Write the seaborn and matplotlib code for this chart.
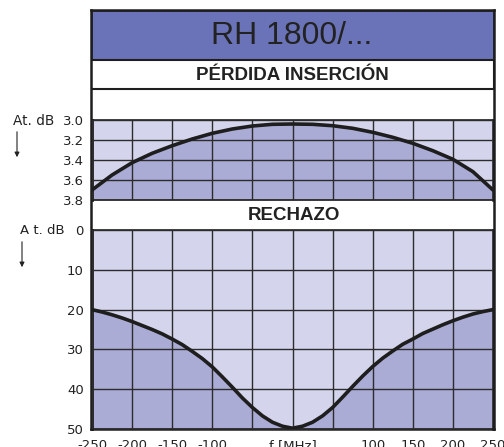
import matplotlib
matplotlib.use("Agg")
import matplotlib.pyplot as plt
from matplotlib.patches import Rectangle
import seaborn as sns
import pandas as pd

# ---- data ----
freq_il = [-250, -225, -200, -175, -150, -125, -100, -75, -50, -25, 0,
           25, 50, 75, 100, 125, 150, 175, 200, 225, 250]
insertion_loss = [3.70, 3.55, 3.427, 3.333, 3.257, 3.19, 3.133, 3.09, 3.06, 3.043, 3.04,
                  3.043, 3.057, 3.083, 3.123, 3.173, 3.233, 3.307, 3.393, 3.517, 3.70]
freq_rej = [-250, -237.5, -225, -212.5, -200, -187.5, -175, -162.5, -150, -137.5,
            -125, -112.5, -100, -87.5, -75, -62.5, -50, -37.5, -25, -12.5, 0,
            12.5, 25, 37.5, 50, 62.5, 75, 87.5, 100, 112.5, 125,
            137.5, 150, 162.5, 175, 187.5, 200, 212.5, 225, 237.5, 250]
rejection = [20.0, 20.6, 21.3, 22.1, 23.0, 24.0, 25.0, 26.1, 27.4, 28.8,
             30.5, 32.3, 34.4, 36.9, 39.5, 42.2, 44.6, 46.7, 48.3, 49.3, 49.8,
             49.3, 48.3, 46.7, 44.6, 42.0, 39.3, 36.7, 34.3, 32.2, 30.4,
             28.7, 27.4, 26.0, 24.9, 23.8, 22.8, 21.9, 21.1, 20.5, 20.0]
x_ticks = [-250, -200, -150, -100, -50, 0, 50, 100, 150, 200, 250]
x_labels = ["-250", "-200", "-150", "-100", "", "f [MHz]", "", "100", "150", "200", "250"]
il_ticks = [3.0, 3.2, 3.4, 3.6, 3.8]
il_labels = ["3.0", "3.2", "3.4", "3.6", "3.8"]
rej_ticks = [0, 10, 20, 30, 40, 50]
rej_labels = ["0", "10", "20", "30", "40", "50"]
title = "RH 1800/..."
sub_top = "PÉRDIDA INSERCIÓN"
sub_bottom = "RECHAZO"
y_name_top = "At. dB"
y_name_bottom = "A t. dB"

df_il = pd.DataFrame({"f": freq_il, "il": insertion_loss})
df_rej = pd.DataFrame({"f": freq_rej, "rej": rejection})

sns.set_style("white")
plt.rcParams["font.family"] = ["DejaVu Sans"]

LIGHT = "#d4d5ec"
DARK = "#aaacd5"
PURPLE = "#6b73b8"
INK = "#1e1e1e"
GRID = "#2c2c2c"

W, H = 504, 447
fig = plt.figure(figsize=(W / 100, H / 100), dpi=100)


def fx(px):
    return px / W


def fy(py):
    return 1 - py / H


# frame / header axes in pixel units
fr = fig.add_axes([fx(91), fy(429), fx(494) - fx(91), fy(10) - fy(429)])
fr.set_xlim(91, 494)
fr.set_ylim(429, 10)
fr.set_xticks([])
fr.set_yticks([])
for s in fr.spines.values():
    s.set_linewidth(1.8)
    s.set_color(INK)
fr.add_patch(Rectangle((91, 10), 403, 50, facecolor=PURPLE, edgecolor=INK, lw=1.8))
fr.add_patch(Rectangle((91, 60), 403, 29, facecolor="white", edgecolor=INK, lw=1.5))
fr.text(292, 36, title, ha="center", va="center", fontsize=23,
        family=["Liberation Sans", "DejaVu Sans"], color="#222222")
fr.text(292, 76, sub_top, ha="center", va="center", fontsize=13.5, fontweight="bold",
        family=["Liberation Sans", "DejaVu Sans"], color="#222222")
fr.text(294, 215, sub_bottom, ha="center", va="center", fontsize=13.5, fontweight="bold",
        family=["Liberation Sans", "DejaVu Sans"], color="#222222")


def style_axes(ax):
    ax.set_facecolor(LIGHT)
    ax.grid(True, color=GRID, lw=1.0)
    ax.set_axisbelow(False)
    for s in ax.spines.values():
        s.set_color(INK)
        s.set_linewidth(1.2)
    ax.spines["left"].set_linewidth(2.0)
    ax.spines["right"].set_linewidth(1.8)
    ax.tick_params(length=0, labelsize=9.5, colors="#222222", pad=6)
    ax.set_xlabel("")
    ax.set_ylabel("")


# top: insertion loss
ax1 = fig.add_axes([fx(92), fy(200), fx(493) - fx(92), fy(120) - fy(200)])
ax1.fill_between(df_il["f"], df_il["il"], 3.8, color=DARK, lw=0, zorder=1)
sns.lineplot(data=df_il, x="f", y="il", ax=ax1, color=INK, lw=2.6, zorder=4)
ax1.set_xlim(-250, 250)
ax1.set_ylim(3.8, 3.0)
ax1.set_xticks(x_ticks)
ax1.set_xticklabels([])
ax1.set_yticks(il_ticks)
ax1.set_yticklabels(il_labels)
style_axes(ax1)

# bottom: rejection
ax2 = fig.add_axes([fx(92), fy(429), fx(493) - fx(92), fy(230) - fy(429)])
ax2.fill_between(df_rej["f"], df_rej["rej"], 50, color=DARK, lw=0, zorder=1)
sns.lineplot(data=df_rej, x="f", y="rej", ax=ax2, color=INK, lw=2.6, zorder=4)
ax2.set_xlim(-250, 250)
ax2.set_ylim(50, 0)
ax2.set_xticks(x_ticks)
ax2.set_xticklabels(x_labels)
ax2.set_yticks(rej_ticks)
ax2.set_yticklabels(rej_labels)
style_axes(ax2)
ax2.tick_params(axis="x", pad=7)

# "At. dB" labels and arrows
fig.text(fx(13), fy(121), y_name_top, ha="left", va="center", fontsize=9.8, color="#222222")
fig.text(fx(20), fy(230), y_name_bottom, ha="left", va="center", fontsize=9.5, color="#222222")
for xa, y0, y1 in [(17, 129, 160), (22, 239, 270)]:
    fig.add_artist(plt.Annotation("", xy=(fx(xa), fy(y1)), xytext=(fx(xa), fy(y0)),
                                  xycoords="figure fraction", textcoords="figure fraction",
                                  arrowprops=dict(arrowstyle="-|>", lw=0.8, color="#222222",
                                                  mutation_scale=7)))

fig.savefig("out.png", dpi=100)
